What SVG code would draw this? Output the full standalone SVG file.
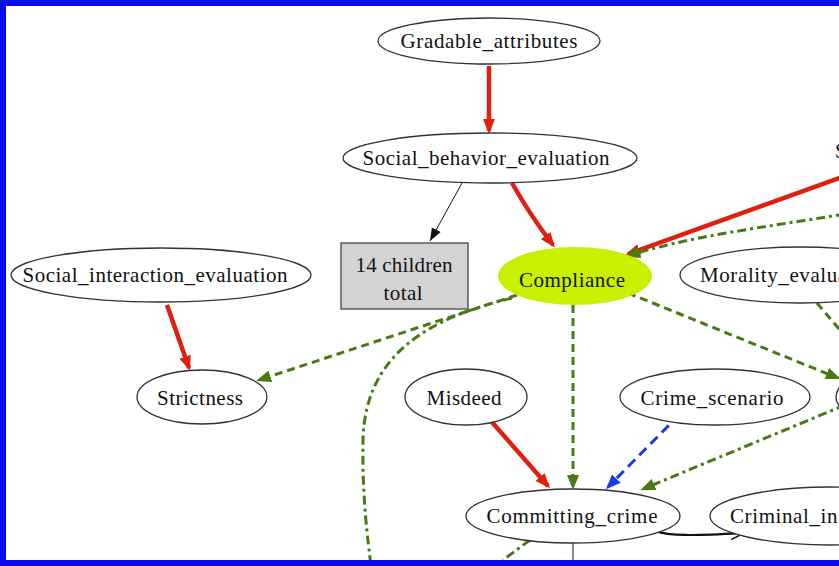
<svg xmlns="http://www.w3.org/2000/svg" width="839" height="566" viewBox="0 0 839 566">
<style>
.n{fill:#fff;stroke:#333;stroke-width:1.3}
.t{font-family:"Liberation Serif","Times New Roman",serif;font-size:21px;fill:#111;text-anchor:middle}
.tl{font-family:"Liberation Serif","Times New Roman",serif;font-size:21px;fill:#111;letter-spacing:0.6px}
.red{fill:none;stroke:#e0200e;stroke-width:4.5}
.grn{fill:none;stroke:#4a7a14;stroke-width:3;stroke-dasharray:8,5}
.gdd{fill:none;stroke:#4a7a14;stroke-width:3;stroke-dasharray:9,4,3,4}
.blu{fill:none;stroke:#1a3ce8;stroke-width:3;stroke-dasharray:10,6}
.blk{fill:none;stroke:#111;stroke-width:1}
</style>
<defs>
<marker id="ar" markerUnits="userSpaceOnUse" markerWidth="16" markerHeight="12" refX="12" refY="6" orient="auto"><path d="M0,0 L15,6 L0,12 z" fill="#e0200e"/></marker>
<marker id="ag" markerUnits="userSpaceOnUse" markerWidth="16" markerHeight="12" refX="12" refY="6" orient="auto"><path d="M0,0 L15,6 L0,12 z" fill="#4a7a14"/></marker>
<marker id="ab" markerUnits="userSpaceOnUse" markerWidth="16" markerHeight="12" refX="12" refY="6" orient="auto"><path d="M0,0 L15,6 L0,12 z" fill="#1a3ce8"/></marker>
<marker id="ak" markerUnits="userSpaceOnUse" markerWidth="14" markerHeight="12" refX="13" refY="6" orient="auto"><path d="M0,1 L13,6 L0,11 z" fill="#111"/></marker>
<marker id="ao" markerUnits="userSpaceOnUse" markerWidth="16" markerHeight="14" refX="14" refY="7" orient="auto"><path d="M1,1 L14,7 L1,13" fill="none" stroke="#111" stroke-width="1.5"/></marker>
</defs>
<rect width="839" height="566" fill="#fff"/>

<g id="connectors">
<path class="red" d="M489,66 L489,131" marker-end="url(#ar)"/>
<path class="blk" d="M462,183 L430,241" marker-end="url(#ak)"/>
<path class="red" d="M512,183 Q530,215 553,245" marker-end="url(#ar)"/>
<path class="red" d="M845,176 L628,254" marker-end="url(#ar)"/>
<path class="gdd" d="M845,214 C760,228 690,236 628,256" marker-end="url(#ag)"/>
<path class="red" d="M167,305 L189,368" marker-end="url(#ar)"/>
<path class="grn" d="M517,295 L259,380" marker-end="url(#ag)"/>
<path class="gdd" d="M512,298 C420,320 365,360 363,440 C362,500 368,540 371,566"/>
<path class="grn" d="M573,305 L573,487" marker-end="url(#ag)"/>
<path class="grn" d="M628,293 L838,378" marker-end="url(#ag)"/>
<path class="grn" d="M817,303 L845,336"/>
<path class="blu" d="M680,414 L608,487" marker-end="url(#ab)"/>
<path class="gdd" d="M845,405 L643,489" marker-end="url(#ag)"/>
<path class="red" d="M491,421 L548,486" marker-end="url(#ar)"/>
<path d="M655,531 C672,537 700,535 744,533" fill="none" stroke="#111" stroke-width="2.2" marker-end="url(#ao)"/>
<path class="blk" d="M573,543 L573,566"/>
<path class="gdd" d="M530,540 L503,560"/>
</g>

<g id="n_gradable"><ellipse class="n" cx="489" cy="41" rx="111" ry="23"/><text class="t" x="489" y="48" textLength="177" lengthAdjust="spacing">Gradable_attributes</text></g>
<g id="n_socbeh"><ellipse class="n" cx="490" cy="158" rx="147" ry="25"/><text class="t" x="486" y="165" textLength="247" lengthAdjust="spacing">Social_behavior_evaluation</text></g>
<g id="n_children"><rect x="341" y="243" width="127" height="66" fill="#d3d3d3" stroke="#444" stroke-width="1.3"/><text class="t" x="404" y="272" textLength="97" lengthAdjust="spacing">14 children</text><text class="t" x="403" y="300" textLength="39" lengthAdjust="spacing">total</text></g>
<g id="n_compliance"><ellipse cx="575" cy="276" rx="77" ry="29" fill="#c8f000"/><text class="t" x="572" y="287" textLength="106" lengthAdjust="spacing" fill="#222">Compliance</text></g>
<g id="n_socint"><ellipse class="n" cx="161" cy="275" rx="150" ry="27"/><text class="t" x="155" y="282" textLength="265" lengthAdjust="spacing">Social_interaction_evaluation</text></g>
<g id="n_strict"><ellipse class="n" cx="202" cy="397" rx="65" ry="27"/><text class="t" x="200" y="405" textLength="86" lengthAdjust="spacing">Strictness</text></g>
<g id="n_morality"><ellipse class="n" cx="800" cy="275" rx="120" ry="28"/><text class="tl" x="700" y="282">Morality_evalua</text></g>
<g id="n_misdeed"><ellipse class="n" cx="466" cy="397" rx="61" ry="28"/><text class="t" x="464" y="405" textLength="75" lengthAdjust="spacing">Misdeed</text></g>
<g id="n_crimescen"><ellipse class="n" cx="715" cy="397" rx="95" ry="28"/><text class="t" x="712" y="405" textLength="143" lengthAdjust="spacing">Crime_scenario</text></g>
<g id="n_right"><ellipse class="n" cx="900" cy="397" rx="64" ry="28"/></g>
<g id="n_topright"><text class="tl" x="835" y="158" fill="#aaa">S</text></g>
<g id="n_committing"><ellipse class="n" cx="573" cy="516" rx="107" ry="27"/><text class="t" x="572" y="523" textLength="171" lengthAdjust="spacing">Committing_crime</text></g>
<g id="n_criminal"><ellipse class="n" cx="830" cy="516" rx="120" ry="29"/><text class="tl" x="730" y="523">Criminal_in</text></g>

<g id="frame" fill="#0a0af0">
<rect x="0" y="0" width="839" height="6"/>
<rect x="0" y="0" width="6" height="566"/>
<rect x="0" y="560" width="839" height="6"/>
</g>
</svg>
